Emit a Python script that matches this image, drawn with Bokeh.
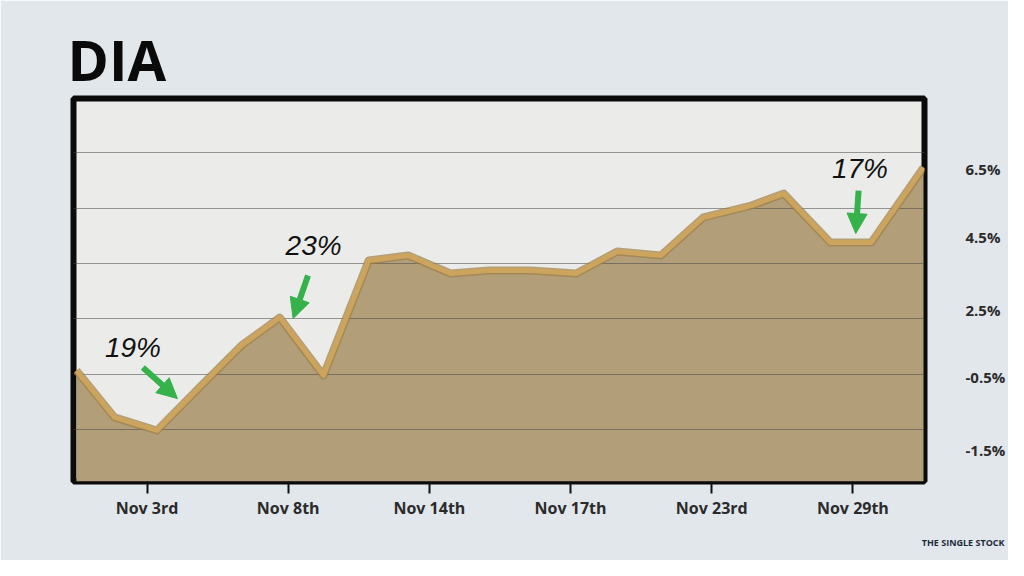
from bokeh.plotting import figure
from bokeh.models import (Range1d, FixedTicker, SingleIntervalTicker, Label, Arrow, NormalHead, Title)
from bokeh.embed import file_html
from bokeh.resources import INLINE

# ---------------- data ----------------
title_text = "DIA"
# x in "tick units" (Nov 3rd = 1 ... Nov 29th = 6)
x_pos = [0.50, 0.77, 1.07, 1.37, 1.67, 1.94, 2.25, 2.57, 2.85, 3.15, 3.42,
         3.72, 4.04, 4.33, 4.64, 4.94, 5.28, 5.51, 5.84, 6.13, 6.50]
# y in chart units (one grid line every 2 units)
y_val = [0.14, -1.55, -2.02, -0.47, 1.05, 2.05, -0.04, 4.11, 4.29, 3.64, 3.75,
         3.75, 3.64, 4.43, 4.29, 5.66, 6.09, 6.52, 4.76, 4.76, 7.46]
x_tick_labels = ["Nov 3rd", "Nov 8th", "Nov 14th", "Nov 17th", "Nov 23rd", "Nov 29th"]
y_tick_labels = ["6.5%", "4.5%", "2.5%", "-0.5%", "-1.5%"]
y_tick_values = [7.41, 4.95, 2.34, -0.10, -2.74]
note_texts = ["19%", "23%", "17%"]
note_text_xy = [(0.90, 0.97), (2.18, 4.65), (6.05, 7.42)]
note_arrows = [((0.97, 0.25), (1.215, -0.87)),
               ((2.14, 3.57), (2.035, 2.02)),
               ((6.04, 6.63), (6.02, 5.08))]
logo_text = "THE SINGLE STOCK"

# ---------------- styles ----------------
BG = "#e2e7eb"
PLOT_BG = "#ebebea"
FILL = "#b29e79"
LINE = "#cca45d"
LINE_DARK = "#9c8047"
GREEN = "#35b24a"
TEXT = "#2b2b2b"

p = figure(width=1008, height=560, output_backend="svg", toolbar_location=None,
           x_range=Range1d(0.479, 6.507), y_range=Range1d(-3.86, 9.95),
           y_axis_location="right",
           min_border_left=73, min_border_right=83, min_border_top=98,
           min_border_bottom=79)

p.background_fill_color = PLOT_BG
p.border_fill_color = BG
p.outline_line_color = "#0b0b0b"
p.outline_line_width = 6

# title
p.title.text = title_text
p.title.text_font = "Open Sans"
p.title.text_font_style = "bold"
p.title.text_font_size = "56px"
p.title.text_color = "#0a0a0a"
p.title.align = "left"
p.title.offset = -6
p.title.standoff = 3

# area + line
p.varea(x=x_pos, y1=-3.86, y2=y_val, fill_color=FILL, fill_alpha=1.0, level="image")
p.line(x=x_pos, y=y_val, line_color=LINE_DARK, line_width=8, line_join="round", line_alpha=0.7)
p.line(x=x_pos, y=y_val, line_color=LINE, line_width=5, line_join="round")

# grid
p.xgrid.visible = False
p.ygrid.ticker = SingleIntervalTicker(interval=2)
p.ygrid.grid_line_color = "#4a4a4a"
p.ygrid.grid_line_alpha = 0.55
p.ygrid.grid_line_width = 1

# x axis
p.xaxis.ticker = FixedTicker(ticks=[i + 1 for i in range(len(x_tick_labels))])
p.xaxis.major_label_overrides = {i + 1: lab for i, lab in enumerate(x_tick_labels)}
p.xaxis.axis_line_color = None
p.xaxis.major_tick_line_color = "#111111"
p.xaxis.major_tick_line_width = 2
p.xaxis.major_tick_in = 0
p.xaxis.major_tick_out = 12
p.xaxis.minor_tick_line_color = None
p.xaxis.major_label_standoff = 3
p.xaxis.major_label_text_font = "Open Sans"
p.xaxis.major_label_text_font_style = "bold"
p.xaxis.major_label_text_font_size = "16px"
p.xaxis.major_label_text_color = TEXT

# y axis (right)
p.yaxis.ticker = FixedTicker(ticks=y_tick_values)
p.yaxis.major_label_overrides = {v: lab for v, lab in zip(y_tick_values, y_tick_labels)}
p.yaxis.axis_line_color = None
p.yaxis.major_tick_line_color = None
p.yaxis.minor_tick_line_color = None
p.yaxis.major_label_standoff = 35
p.yaxis.major_label_text_font = "Open Sans"
p.yaxis.major_label_text_font_style = "bold"
p.yaxis.major_label_text_font_size = "15px"
p.yaxis.major_label_text_color = TEXT

# annotations
for txt, (tx, ty), ((xs, ys), (xe, ye)) in zip(note_texts, note_text_xy, note_arrows):
    p.add_layout(Label(x=tx, y=ty, text=txt, text_font="Liberation Sans",
                       text_font_style="italic", text_font_size="28px",
                       text_color="#111111", text_align="center",
                       text_baseline="middle"))
    p.add_layout(Arrow(x_start=xs, y_start=ys, x_end=xe, y_end=ye,
                       line_color=GREEN, line_width=6,
                       end=NormalHead(size=20, fill_color=GREEN, line_color=GREEN)))

# logo text as a small title below the chart, right-aligned
p.add_layout(Title(text=logo_text, align="right", offset=-80, standoff=24,
                   text_font="Open Sans", text_font_style="bold",
                   text_font_size="9px", text_color="#1d2a3a"), "below")

open("out.html", "w").write(file_html(p, INLINE))
